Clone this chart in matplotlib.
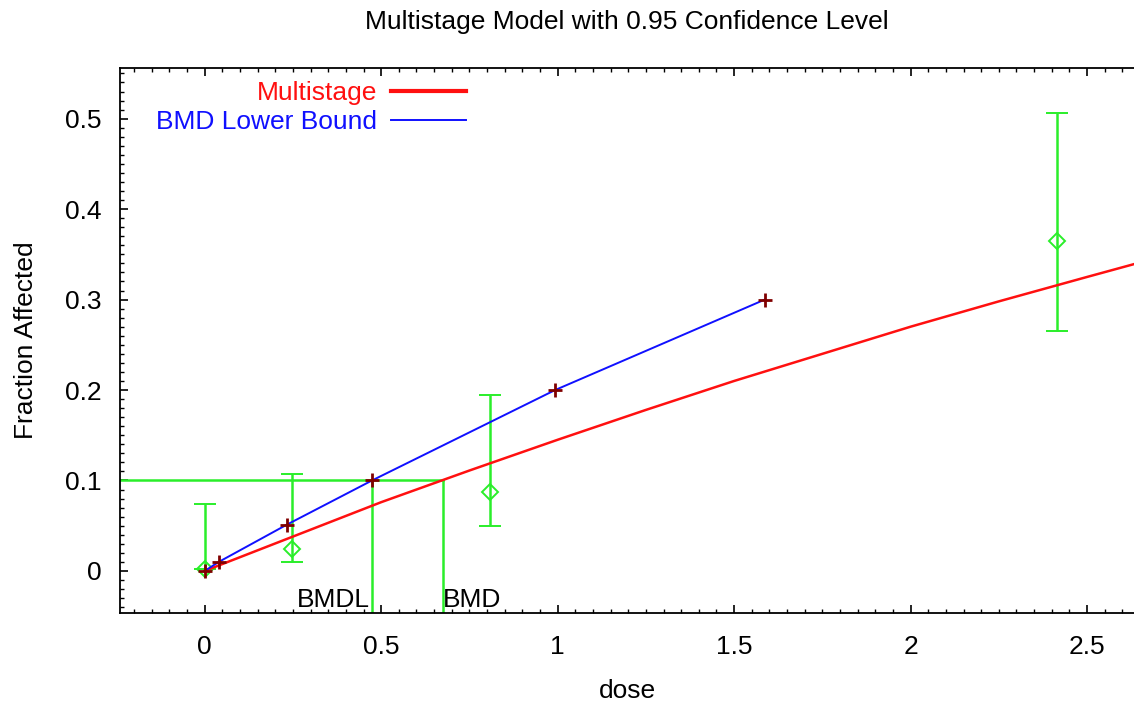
import matplotlib
matplotlib.use("Agg")
import matplotlib.pyplot as plt
from matplotlib.ticker import MultipleLocator

plt.rcParams['font.family'] = ['Liberation Sans', 'DejaVu Sans']

# multistage fit
model_dose = [0, 0.25, 0.5, 0.75, 1.0, 1.25, 1.5, 1.75, 2.0, 2.25, 2.5, 2.65]
model_frac = [0, 0.038, 0.076, 0.111, 0.145, 0.178, 0.21, 0.24, 0.27, 0.298, 0.325, 0.341]

# BMD lower bound curve (crosses)
bmdl_dose = [0, 0.04, 0.232, 0.474, 0.993, 1.587]
bmdl_frac = [0, 0.01, 0.051, 0.1, 0.2, 0.3]

# observed data with confidence bars
obs_dose = [0, 0.246, 0.808, 2.415]
obs_frac = [0.002, 0.024, 0.087, 0.365]
obs_low = [0.002, 0.0096, 0.05, 0.265]
obs_high = [0.074, 0.107, 0.195, 0.506]

bmr = 0.1
bmdl = 0.474
bmd = 0.676

green = '#2aee2a'
fs = 19

fig = plt.figure(figsize=(11.34, 7.09), dpi=100)
ax = fig.add_axes([0.1058, 0.1354, 0.8942, 0.7687])

yerr = [[f - lo for f, lo in zip(obs_frac, obs_low)],
        [hi - f for f, hi in zip(obs_frac, obs_high)]]
ax.errorbar(obs_dose, obs_frac, yerr=yerr, fmt='D', ms=8, mfc='none', mec=green,
            mew=1.4, ecolor=green, elinewidth=1.8, capsize=8, capthick=1.8)

# BMD / BMDL markers
ax.plot([-0.3, bmd], [bmr, bmr], color=green, lw=1.8)
ax.plot([bmdl, bmdl], [bmr, -0.1], color=green, lw=1.8)
ax.plot([bmd, bmd], [bmr, -0.1], color=green, lw=1.8)
ax.text(bmdl - 0.005, -0.045, 'BMDL', ha='right', va='bottom', fontsize=fs)
ax.text(bmd, -0.045, 'BMD', ha='left', va='bottom', fontsize=fs)

ax.plot(model_dose, model_frac, color='#ff1010', lw=1.8, label='Multistage', zorder=3)
ax.plot(bmdl_dose, bmdl_frac, color='#1010ff', lw=1.4, label='BMD Lower Bound', zorder=3)
ax.plot(bmdl_dose, bmdl_frac, ls='none', marker='+', ms=10, mew=2, color='#800000', zorder=5)

ax.set_xlim(-0.24, 2.633)
ax.set_ylim(-0.0465, 0.556)
ax.xaxis.set_major_locator(MultipleLocator(0.5))
ax.xaxis.set_minor_locator(MultipleLocator(0.05))
ax.yaxis.set_major_locator(MultipleLocator(0.1))
ax.yaxis.set_minor_locator(MultipleLocator(0.01))
ax.xaxis.set_major_formatter(plt.FuncFormatter(lambda v, p: f'{v:g}'))
ax.yaxis.set_major_formatter(plt.FuncFormatter(lambda v, p: f'{v:g}'))
ax.tick_params(which='both', direction='in', top=True, right=False, labelsize=fs)
ax.tick_params(axis='x', which='both', pad=16)
ax.tick_params(axis='y', which='both', pad=13)
ax.tick_params(which='major', length=6, width=1.2)
ax.tick_params(which='minor', length=3, width=1)
ax.spines['right'].set_visible(False)
for s in ['left', 'top', 'bottom']:
    ax.spines[s].set_linewidth(1.3)

ax.set_xlabel('dose', fontsize=fs, labelpad=14)
ax.set_ylabel('Fraction Affected', fontsize=fs, labelpad=20)
ax.set_title('Multistage Model with 0.95 Confidence Level', fontsize=fs, pad=28)

leg = ax.legend(loc='upper right', bbox_to_anchor=(0.341, 0.976), frameon=False,
                markerfirst=False, fontsize=fs, handlelength=2.85, handletextpad=0.5,
                labelspacing=0.18, borderpad=0, borderaxespad=0,
                labelcolor=['#ff1010', '#1010ff'])
leg.get_lines()[0].set_linewidth(3)

fig.savefig('out.png', dpi=100)
